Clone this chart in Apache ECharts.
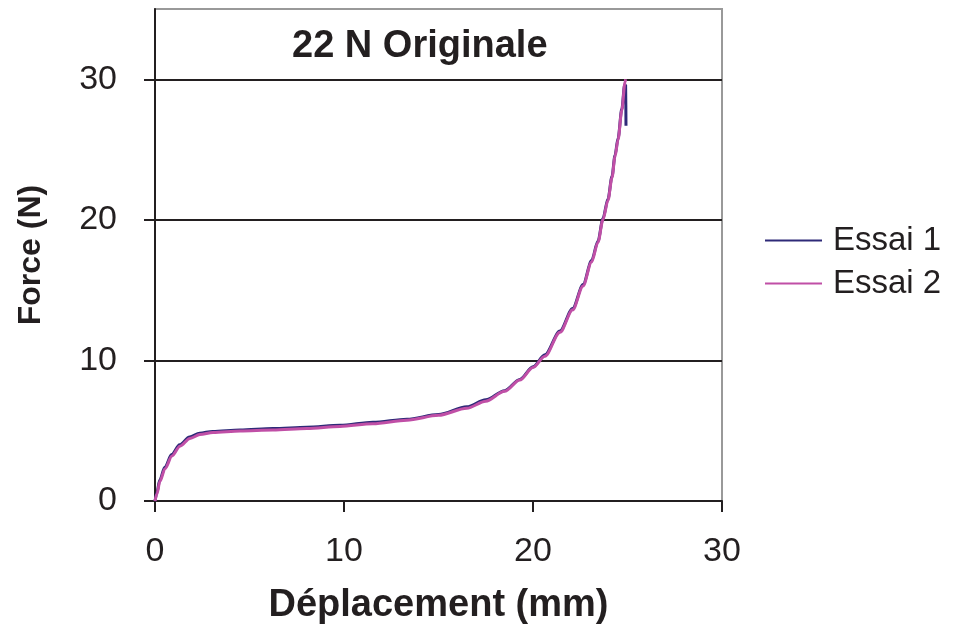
<!DOCTYPE html>
<html><head><meta charset="utf-8">
<script src="https://cdn.jsdelivr.net/npm/echarts@6/dist/echarts.min.js"></script>
<style>html,body{margin:0;padding:0;background:#fff}#c{width:954px;height:630px}</style>
</head><body><div id="c"></div>
<script>
var titleText = '22 N Originale';
var xName = 'Déplacement (mm)';
var yName = 'Force (N)';
var seriesNames = ['Essai 1', 'Essai 2'];

var essai1X = [0, 0.1, 0.25, 0.52, 0.88, 1.3, 1.83, 2.36, 3.05, 4.5, 6.24, 8.04, 9.79, 11.53, 13.33, 15.0, 16.5, 17.5, 18.5, 19.3, 20.0, 20.63, 21.43, 22.1, 22.65, 23.1, 23.44, 23.7, 23.97, 24.18, 24.34, 24.5, 24.7, 24.85, 24.9, 24.92];
var essai1Y = [0, 0.6, 1.5, 2.4, 3.3, 4.0, 4.55, 4.82, 4.95, 5.05, 5.15, 5.25, 5.38, 5.6, 5.82, 6.15, 6.7, 7.2, 7.85, 8.65, 9.55, 10.4, 12.1, 13.7, 15.4, 17.1, 18.5, 20.1, 21.5, 23.1, 24.6, 25.8, 27.9, 29.6, 29.6, 26.7];

var essai2X = [0, 0.1, 0.26, 0.53, 0.9, 1.32, 1.85, 2.38, 3.07, 4.5, 6.24, 8.04, 9.79, 11.53, 13.33, 15.0, 16.5, 17.5, 18.5, 19.3, 20.0, 20.63, 21.43, 22.1, 22.65, 23.1, 23.44, 23.7, 23.97, 24.18, 24.34, 24.5, 24.7, 24.87, 24.9];
var essai2Y = [0, 0.5, 1.4, 2.3, 3.2, 3.9, 4.45, 4.73, 4.88, 4.98, 5.05, 5.15, 5.3, 5.5, 5.75, 6.1, 6.6, 7.1, 7.8, 8.6, 9.5, 10.3, 12.0, 13.6, 15.3, 17.0, 18.4, 20.0, 21.4, 23.0, 24.5, 25.7, 27.8, 29.8, 30.0];

function pairs(xs, ys) { return xs.map(function (x, i) { return [x, ys[i]]; }); }

var chart = echarts.init(document.getElementById('c'), null, {renderer: 'canvas'});
var font = 'Liberation Sans, Arial, sans-serif';
chart.setOption({
  backgroundColor: '#fff',
  animation: false,
  title: {
    text: titleText, left: 287, top: 23,
    textStyle: {fontFamily: font, fontSize: 38, fontWeight: 'bold', color: '#231f20'}
  },
  legend: {
    orient: 'vertical', left: 760, top: 219, itemWidth: 57, itemHeight: 2, itemGap: 10,
    icon: 'rect',
    textStyle: {fontFamily: font, fontSize: 33, color: '#231f20', padding: [0, 0, 0, 6]},
    data: seriesNames
  },
  grid: {left: 155, right: 232, top: 9, bottom: 127, show: true, borderColor: '#999', borderWidth: 2},
  xAxis: {
    type: 'value', min: 0, max: 30, interval: 10,
    name: xName, nameLocation: 'middle', nameGap: 86,
    nameTextStyle: {fontFamily: font, fontSize: 38, fontWeight: 'bold', color: '#231f20'},
    axisLine: {lineStyle: {color: '#231f20', width: 2}},
    axisTick: {show: true, length: 11, lineStyle: {color: '#231f20', width: 2}},
    axisLabel: {fontFamily: font, fontSize: 34, color: '#231f20', margin: 34},
    splitLine: {show: false}
  },
  yAxis: {
    type: 'value', min: 0, max: 35, interval: 10,
    name: yName, nameLocation: 'middle', nameGap: 108,
    nameTextStyle: {fontFamily: font, fontSize: 32, fontWeight: 'bold', color: '#231f20'},
    axisLine: {show: true, lineStyle: {color: '#231f20', width: 2}},
    axisTick: {show: true, length: 11, lineStyle: {color: '#231f20', width: 2}},
    axisLabel: {fontFamily: font, fontSize: 34, color: '#231f20', margin: 38, showMaxLabel: false},
    splitLine: {show: true, lineStyle: {color: ['#231f20', '#231f20', '#231f20', '#231f20', '#999'], width: 2}}
  },
  series: [
    {name: seriesNames[0], type: 'line', data: pairs(essai1X, essai1Y), showSymbol: false, symbol: 'none',
     smooth: 0.3, smoothMonotone: 'x', lineStyle: {color: '#2e2a78', width: 3}, itemStyle: {color: '#2e2a78'}},
    {name: seriesNames[1], type: 'line', data: pairs(essai2X, essai2Y), showSymbol: false, symbol: 'none',
     smooth: 0.3, smoothMonotone: 'x', lineStyle: {color: '#c04fa6', width: 3}, itemStyle: {color: '#c04fa6'}}
  ]
});
</script></body></html>
